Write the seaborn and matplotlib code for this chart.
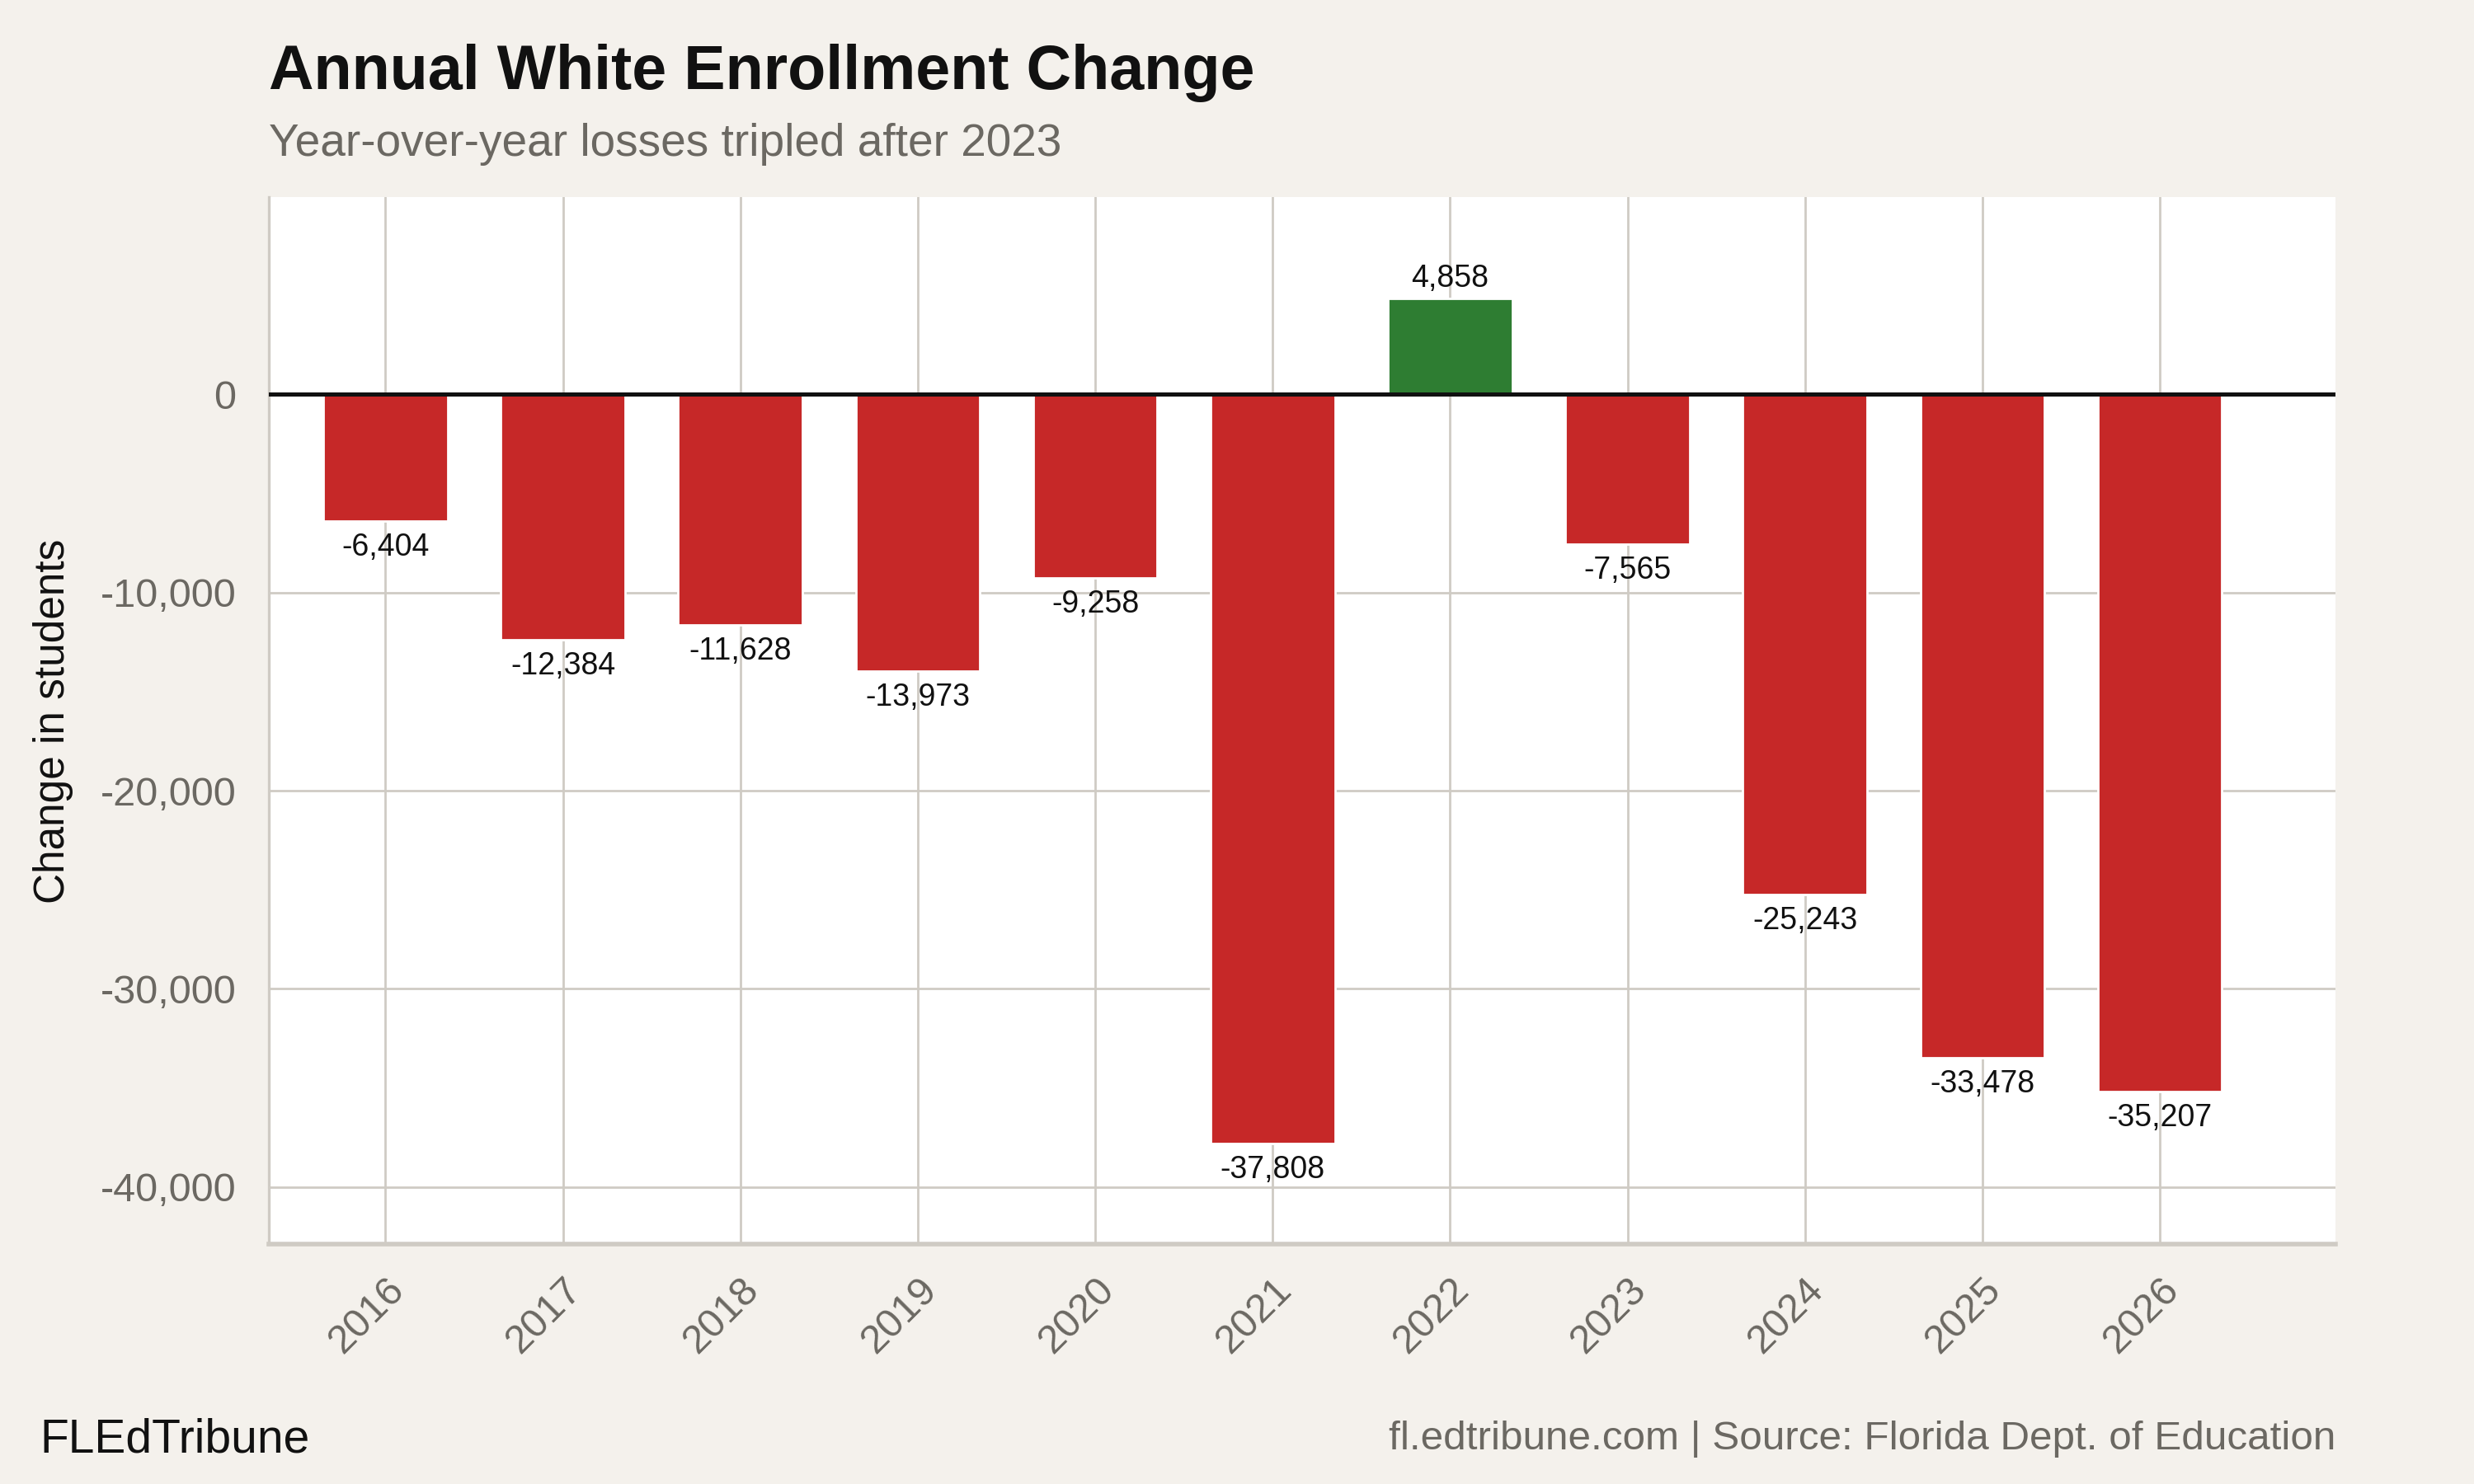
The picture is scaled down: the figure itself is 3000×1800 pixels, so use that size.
import numpy as np
import pandas as pd
import matplotlib
matplotlib.use("Agg")
import matplotlib.pyplot as plt
import seaborn as sns

YEARS = ["2016", "2017", "2018", "2019", "2020", "2021",
         "2022", "2023", "2024", "2025", "2026"]
CHANGE = [-6404, -12384, -11628, -13973, -9258, -37808,
          4858, -7565, -25243, -33478, -35207]
Y_TICKS = [0, -10000, -20000, -30000, -40000]

RED = "#C62828"
GREEN = "#2E7D32"
BG = "#F4F1EC"
GRID = "#CFCBC4"
GREY_TXT = "#6B6862"

sns.set_theme(style="white")
plt.rcParams["font.family"] = ["Liberation Sans", "DejaVu Sans"]

df = pd.DataFrame({"year": YEARS, "change": CHANGE})
colors = [GREEN if v > 0 else RED for v in df["change"]]

fig = plt.figure(figsize=(15, 9), dpi=200, facecolor=BG)
ax = fig.add_axes([0.1085, 0.1615, 0.8355, 0.7055])
ax.set_facecolor("white")

sns.barplot(data=df, x="year", y="change", hue="year", palette=colors,
            legend=False, width=0.7, saturation=1, ax=ax, zorder=3)

ax.set_xlim(-0.66, 10.99)
ax.set_ylim(-42900, 9950)
ax.set_yticks(Y_TICKS)
ax.set_yticklabels([f"{t:,}" for t in Y_TICKS])

# grid
ax.grid(True, axis="both", color=GRID, linewidth=1.0, zorder=0)
ax.axhline(0, color="#111111", linewidth=1.8, zorder=4)

for s in ["top", "right"]:
    ax.spines[s].set_visible(False)
ax.spines["left"].set_color(GRID)
ax.spines["bottom"].set_color(GRID)
ax.spines["left"].set_linewidth(1.2)
ax.spines["bottom"].set_linewidth(2.0)

ax.tick_params(axis="both", colors=GRID, length=6, width=1.0,
               labelcolor=GREY_TXT, labelsize=17.5)
ax.tick_params(axis="y", pad=8)
ax.tick_params(axis="x", length=8)
for lab in ax.get_xticklabels():
    lab.set_rotation(45)
    lab.set_ha("right")
    lab.set_rotation_mode("anchor")

ax.set_xlabel("")
ax.set_ylabel("Change in students", fontsize=18.5, color="#111111", labelpad=12)

# bar value labels
for i, v in enumerate(CHANGE):
    if v >= 0:
        ax.annotate(f"{v:,}", (i, v), xytext=(0, 2), textcoords="offset points",
                    ha="center", va="bottom", fontsize=13.5, color="#111111", zorder=5)
    else:
        ax.annotate(f"{v:,}", (i, v), xytext=(0, -5), textcoords="offset points",
                    ha="center", va="top", fontsize=13.5, color="#111111", zorder=5)

# titles
fig.text(0.1085, 0.951, "Annual White Enrollment Change", fontsize=27.2,
         fontweight="bold", color="#111111", ha="left", va="center")
fig.text(0.1085, 0.903, "Year-over-year losses tripled after 2023", fontsize=19.8,
         color=GREY_TXT, ha="left", va="center")

# footer
fig.text(0.016, 0.030, "FLEdTribune", fontsize=20.5, color="#111111",
         ha="left", va="center")
fig.text(0.944, 0.030, "fl.edtribune.com | Source: Florida Dept. of Education",
         fontsize=17.8, color=GREY_TXT, ha="right", va="center")

fig.savefig("out.png", dpi=200, facecolor=BG)
